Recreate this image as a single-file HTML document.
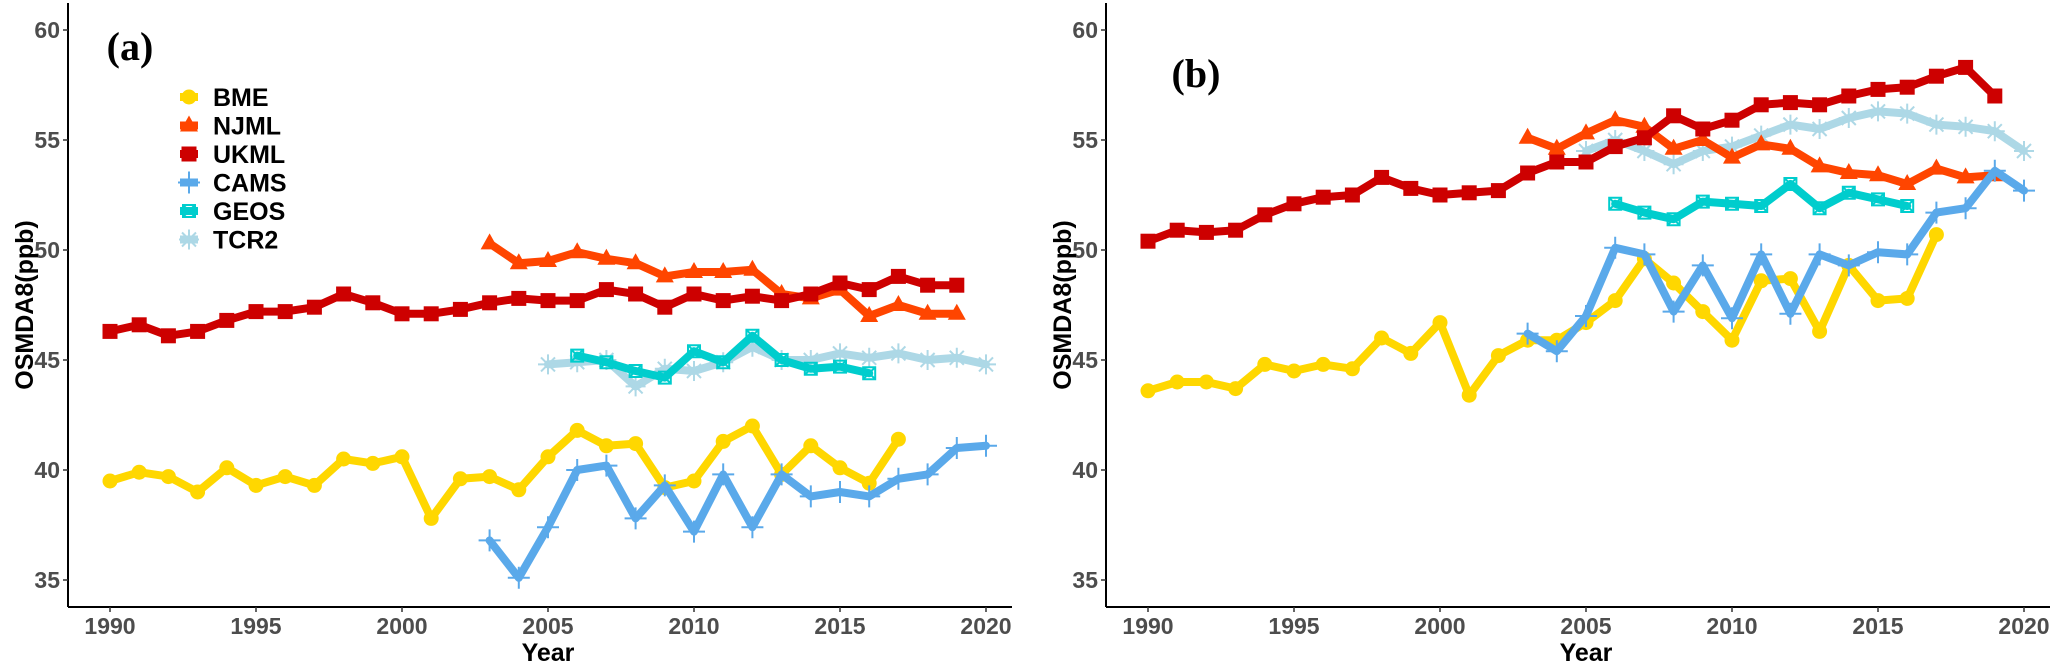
<!DOCTYPE html>
<html><head><meta charset="utf-8"><style>
html,body{margin:0;padding:0;background:#fff;}
svg{display:block;font-family:"Liberation Sans",Arial,sans-serif;}
</style></head><body>
<svg id="chart" width="2067" height="664" viewBox="0 0 2067 664" xmlns="http://www.w3.org/2000/svg"></svg>
<script>
const years = [];
for (let y = 1990; y <= 2020; y++) years.push(y);
const yTicks = [35, 40, 45, 50, 55, 60];
const xTicks = [1990, 1995, 2000, 2005, 2010, 2015, 2020];
const seriesNames = ["BME","NJML","UKML","CAMS","GEOS","TCR2"];

// Panel (a)
const bmeA_start = 1990;
const bmeA = [39.5,39.9,39.7,39.0,40.1,39.3,39.7,39.3,40.5,40.3,40.6,37.8,39.6,39.7,39.1,40.6,41.8,41.1,41.2,39.2,39.5,41.3,42.0,39.8,41.1,40.1,39.4,41.4];
const njmlA_start = 2003;
const njmlA = [50.3,49.4,49.5,49.9,49.6,49.4,48.8,49.0,49.0,49.1,48.0,47.8,48.2,47.0,47.5,47.1,47.1];
const ukmlA_start = 1990;
const ukmlA = [46.3,46.6,46.1,46.3,46.8,47.2,47.2,47.4,48.0,47.6,47.1,47.1,47.3,47.6,47.8,47.7,47.7,48.2,48.0,47.4,48.0,47.7,47.9,47.7,48.0,48.5,48.2,48.8,48.4,48.4];
const camsA_start = 2003;
const camsA = [36.8,35.1,37.4,40.0,40.2,37.8,39.3,37.2,39.8,37.4,39.8,38.8,39.0,38.8,39.6,39.8,41.0,41.1];
const geosA_start = 2006;
const geosA = [45.2,44.9,44.5,44.2,45.4,44.9,46.1,45.0,44.6,44.7,44.4];
const tcr2A_start = 2005;
const tcr2A = [44.8,44.9,45.0,43.8,44.6,44.5,44.9,45.6,45.0,45.0,45.3,45.1,45.3,45.0,45.1,44.8];

// Panel (b)
const bmeB_start = 1990;
const bmeB = [43.6,44.0,44.0,43.7,44.8,44.5,44.8,44.6,46.0,45.3,46.7,43.4,45.2,45.9,45.9,46.7,47.7,49.6,48.5,47.2,45.9,48.6,48.7,46.3,49.3,47.7,47.8,50.7];
const njmlB_start = 2003;
const njmlB = [55.1,54.6,55.3,55.9,55.6,54.6,55.0,54.2,54.8,54.6,53.8,53.5,53.4,53.0,53.7,53.3,53.4];
const ukmlB_start = 1990;
const ukmlB = [50.4,50.9,50.8,50.9,51.6,52.1,52.4,52.5,53.3,52.8,52.5,52.6,52.7,53.5,54.0,54.0,54.7,55.1,56.1,55.5,55.9,56.6,56.7,56.6,57.0,57.3,57.4,57.9,58.3,57.0];
const camsB_start = 2003;
const camsB = [46.2,45.4,47.0,50.1,49.8,47.2,49.3,46.9,49.8,47.1,49.8,49.3,49.9,49.8,51.7,51.9,53.6,52.7];
const geosB_start = 2006;
const geosB = [52.1,51.7,51.4,52.2,52.1,52.0,53.0,51.9,52.6,52.3,52.0];
const tcr2B_start = 2005;
const tcr2B = [54.5,55.0,54.5,53.9,54.5,54.7,55.2,55.7,55.5,56.0,56.3,56.2,55.7,55.6,55.4,54.5];

const colors = {BME:"#FFD700",NJML:"#FF4500",UKML:"#CD0000",CAMS:"#5AA9EA",GEOS:"#00CDCD",TCR2:"#ADD8E6"};
const NS = "http://www.w3.org/2000/svg";
const svg = document.getElementById("chart");
function mk(tag, attrs, parent){const e=document.createElementNS(NS,tag);for(const k in attrs)e.setAttribute(k,attrs[k]);(parent||svg).appendChild(e);return e;}

const yScale = v => 250 - (v - 50) * 22;
function xScaleFor(off){ return yr => 110 + off + (yr - 1990) * (146/5); }

function marker(g, name, x, y){
  const c = colors[name];
  let m;
  if (name==="BME") m = mk("circle",{cx:x,cy:y,r:7.5,fill:c},g);
  else if (name==="NJML") m = mk("polygon",{points:`${x},${y-10} ${x+9},${y+6} ${x-9},${y+6}`,fill:c},g);
  else if (name==="UKML") m = mk("rect",{x:x-7.5,y:y-7.5,width:15,height:15,fill:c},g);
  else if (name==="CAMS") m = mk("path",{d:`M${x-11},${y}H${x+11}M${x},${y-11}V${y+11}`,stroke:c,"stroke-width":2,fill:"none"},g);
  else if (name==="GEOS") m = mk("path",{d:`M${x-6},${y-6}h12v12h-12zM${x-6},${y-6}L${x+6},${y+6}M${x+6},${y-6}L${x-6},${y+6}`,stroke:c,"stroke-width":2,fill:"none"},g);
  else m = mk("path",{d:`M${x-10},${y}H${x+10}M${x},${y-10}V${y+10}M${x-7},${y-7}L${x+7},${y+7}M${x+7},${y-7}L${x-7},${y+7}`,stroke:c,"stroke-width":2,fill:"none"},g);
  
  
}

function drawPanel(off, label, data, labelPos){
  const xs = xScaleFor(off);
  const panel = mk("g",{});
  
  
  const axL = 68 + off;
  const yAx = mk("line",{x1:axL,y1:3,x2:axL,y2:607,stroke:"#000","stroke-width":2},panel);
  
  
  const xAx = mk("line",{x1:axL,y1:607,x2:axL+944,y2:607,stroke:"#000","stroke-width":2},panel);
  
  
  yTicks.forEach(t=>{
    const y=yScale(t);
    mk("line",{x1:axL-5,y1:y,x2:axL,y2:y,stroke:"#333","stroke-width":1.5},panel);
    const tx=mk("text",{x:axL-8,y:y+8,"text-anchor":"end","font-size":23,"font-weight":"bold",fill:"#4d4d4d"},panel);
    tx.textContent=t;
    
    
  });
  xTicks.forEach(t=>{
    const x=xs(t);
    mk("line",{x1:x,y1:607,x2:x,y2:612,stroke:"#333","stroke-width":1.5},panel);
    const tx=mk("text",{x:x,y:634,"text-anchor":"middle","font-size":23,"font-weight":"bold",fill:"#4d4d4d"},panel);
    tx.textContent=t;
    
    
  });
  const xt=mk("text",{x:xs(2005),y:661,"text-anchor":"middle","font-size":25,"font-weight":"bold",fill:"#000"},panel);
  xt.textContent="Year";
  
  
  const yt=mk("text",{x:0,y:0,transform:`translate(${off+33},${yScale(47.5)}) rotate(-90)`,"text-anchor":"middle","font-size":25,"font-weight":"bold",fill:"#000"},panel);
  yt.textContent="OSMDA8(ppb)";
  
  
  const pl=mk("text",{x:labelPos[0],y:labelPos[1],"text-anchor":"middle","font-size":40,"font-weight":"bold","font-family":"Liberation Serif, serif",fill:"#000"},panel);
  pl.textContent="("+label+")";
  
  
  ["TCR2","GEOS","BME","NJML","UKML","CAMS"].forEach(name=>{
    const [start, vals] = data[name];
    const g = mk("g",{},panel);
    
    
    const pts = vals.map((v,i)=>[xs(start+i), yScale(v)]);
    const ln = mk("polyline",{points:pts.map(p=>p.join(",")).join(" "),fill:"none",stroke:colors[name],"stroke-width":8,"stroke-linejoin":"round","stroke-linecap":"round"},g);
    
    
    pts.forEach(p=>marker(g,name,p[0],p[1]));
  });
}

drawPanel(0,"a",{BME:[bmeA_start,bmeA],NJML:[njmlA_start,njmlA],UKML:[ukmlA_start,ukmlA],CAMS:[camsA_start,camsA],GEOS:[geosA_start,geosA],TCR2:[tcr2A_start,tcr2A]},[130,60]);
drawPanel(1038,"b",{BME:[bmeB_start,bmeB],NJML:[njmlB_start,njmlB],UKML:[ukmlB_start,ukmlB],CAMS:[camsB_start,camsB],GEOS:[geosB_start,geosB],TCR2:[tcr2B_start,tcr2B]},[1196,87]);

const leg = mk("g",{});


seriesNames.forEach((name,i)=>{
  const y = 97 + i*28.5;
  const g = mk("g",{},leg);
  
  
  mk("line",{x1:180,y1:y,x2:198,y2:y,stroke:colors[name],"stroke-width":8},g);
  marker(g,name,189,y);
  const t = mk("text",{x:213,y:y+9,"font-size":25,"font-weight":"bold",fill:"#000"},g);
  t.textContent = name;
});
</script>
</body></html>
